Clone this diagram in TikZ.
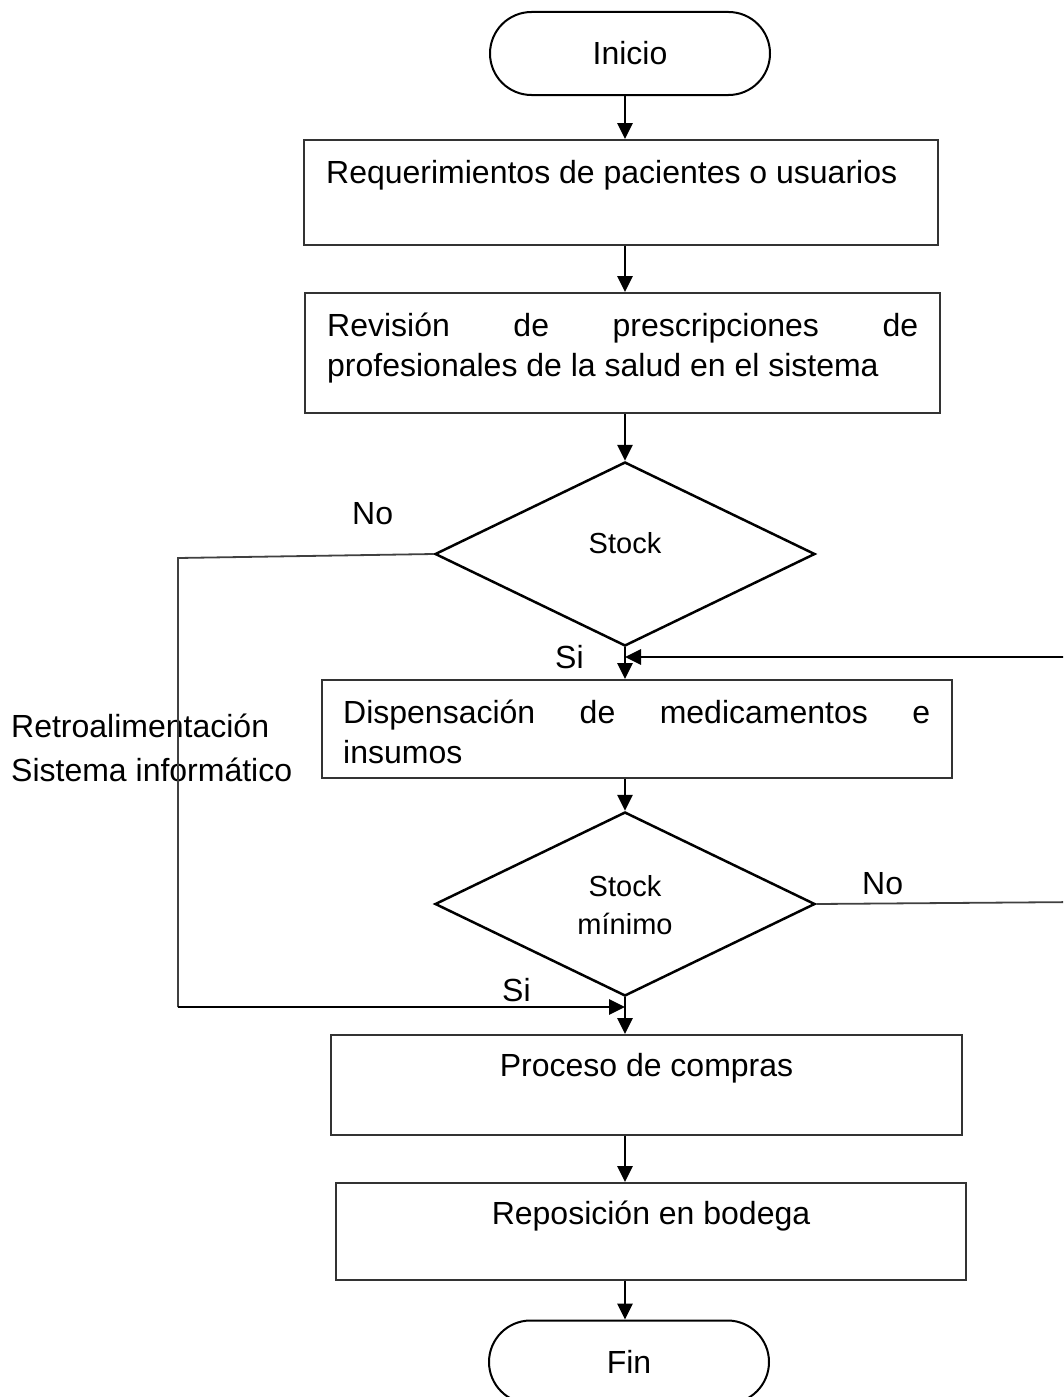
\documentclass[tikz,border=0pt]{standalone}
\usepackage{fontspec}
\setmainfont{Liberation Sans}
\usetikzlibrary{shapes.geometric,shapes.misc,arrows.meta}
\begin{document}
\begin{tikzpicture}[x=1pt,y=-1pt,
  font=\fontsize{32}{41}\selectfont,
  terminal/.style={draw=black, line width=2pt, rounded rectangle,
    minimum width=280pt, minimum height=83pt, inner sep=0pt},
  stepbox/.style 2 args={draw=black!80, line width=1.9pt, rectangle,
    minimum width=#1, minimum height=#2, inner sep=0pt},
  decision/.style={draw=black, line width=2.5pt, diamond,
    minimum width=380pt, minimum height=184pt, inner sep=0pt},
  flow/.style={draw=black, line width=2.8pt,
    -{Triangle[length=16pt,width=15pt]}},
  thin/.style={draw=black!75, line width=1.8pt},
  txt/.style={inner sep=0pt, anchor=base west},
  small/.style={font=\fontsize{29}{38}\selectfont}
]
\useasboundingbox (0,0) rectangle (1063,1397);
\clip (0,0) rectangle (1063,1397);

% vertical spine of the flow
\coordinate (spine) at (625,0);

% shapes
\node[terminal] (inicio) at (630,53.5) {Inicio};
\node[stepbox={634pt}{105pt}] (b1) at (621,192.5) {};
\node[stepbox={635pt}{120pt}] (b2) at (622.5,353) {};
\node[decision] (d1) at (625,554) {};
\node[stepbox={630pt}{98pt}] (b3) at (637,729) {};
\node[decision] (d2) at (625,904) {};
\node[stepbox={631pt}{100pt}] (b4) at (646.5,1085) {};
\node[stepbox={630pt}{97pt}] (b5) at (651,1231.5) {};
\node[terminal] (fin) at (629,1362) {Fin};

% texts inside the boxes
\node[txt] (t1) at (326,183) {Requerimientos de pacientes o usuarios};
\node[txt] (t2a) at (327,336) {\makebox[591pt][s]{Revisión de prescripciones de}};
\node[txt] (t2b) at (327,376) {profesionales de la salud en el sistema};
\node[txt] (t3a) at (343,723) {\makebox[587pt][s]{Dispensación de medicamentos e}};
\node[txt] (t3b) at (343,763) {insumos};
\node[inner sep=0pt, anchor=base, small] (s1) at (625,553) {Stock};
\node[inner sep=0pt, small, align=center] (s2) at (625,905) {Stock\\mínimo};
\node[inner sep=0pt, anchor=base] (t4) at (646.5,1076) {Proceso de compras};
\node[inner sep=0pt, anchor=base] (t5) at (651,1224) {Reposición en bodega};

% side labels
\node[txt] (r1) at (11,737) {Retroalimentación};
\node[txt] (r2) at (11,781) {Sistema informático};
\node[txt] (no1) at (352,524) {No};
\node[txt] (si1) at (555,668) {Si};
\node[txt] (no2) at (862,894) {No};
\node[txt] (si2) at (502,1001) {Si};

% main connectors
\draw[flow] (inicio.south -| spine) -- (b1.north -| spine);
\draw[flow] (b1.south -| spine) -- (b2.north -| spine);
\draw[flow] (b2.south -| spine) -- (d1.north);
\draw[flow] (d1.south) -- (b3.north -| spine);
\draw[flow] (b3.south -| spine) -- (d2.north);
\draw[flow] (d2.south) -- (b4.north -| spine);
\draw[flow] (b4.south -| spine) -- (b5.north -| spine);
\draw[flow] (b5.south -| spine) -- (fin.north -| spine);

% "No" branch of the first decision, back into the purchase step
\coordinate (lt) at (178,558);
\coordinate (lb) at (178,1007);
\coordinate (jb) at (625,1007);
\draw[thin] (d1.west) -- (lt) -- (lb);
\draw[flow] (lb) -- (jb);

% "No" branch of the minimum-stock decision, back to dispensing
\coordinate (rb) at (1080,902);
\coordinate (rt) at (1080,657);
\coordinate (jt) at (625,657);
\draw[thin] (d2.east) -- (rb) -- (rt);
\draw[flow] (rt) -- (jt);
\end{tikzpicture}
\end{document}
